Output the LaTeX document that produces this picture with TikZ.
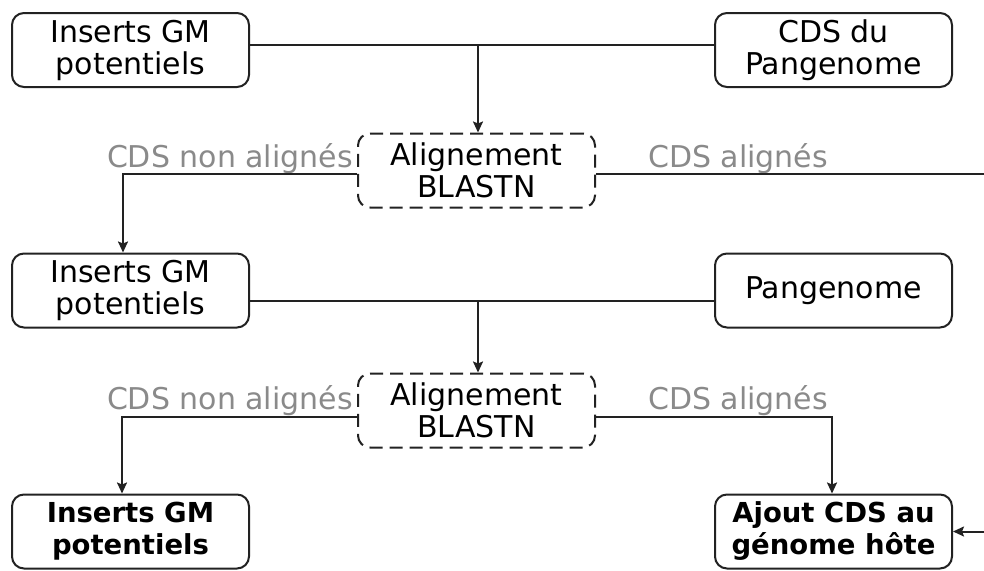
\documentclass[tikz,border=0pt]{standalone}
\usepackage{fontspec}
\setmainfont{DejaVu Sans}
\usetikzlibrary{arrows.meta}
\definecolor{lbl}{HTML}{8A8A8A}
\definecolor{ln}{HTML}{222222}
\begin{document}
\begin{tikzpicture}[x=1pt,y=-1pt,
  box/.style={draw=ln, line width=2pt, rounded corners=12pt, minimum width=237pt,
    minimum height=74pt, align=center, inner sep=0pt,
    font=\fontsize{30}{32}\selectfont},
  dbox/.style={box, dash pattern=on 13pt off 7pt},
  bbox/.style={box, font=\fontsize{27.5}{32}\selectfont\bfseries},
  lab/.style={text=lbl, inner sep=0pt, font=\fontsize{30}{32}\selectfont},
  conn/.style={draw=ln, line width=2pt},
  arr/.style={conn, -{Stealth[length=11pt,width=10pt,inset=2pt]}}]
\clip (0,0) rectangle (984,570);
% nodes
\node[box]  (in1)  at (130.5,50) {Inserts GM\\potentiels};
\node[box]  (cds1) at (833.5,50) {CDS du\\Pangenome};
\node[dbox] (al1)  at (476.5,170.5) {Alignement\\BLASTN};
\node[box]  (in2)  at (130.5,290.5) {Inserts GM\\potentiels};
\node[box]  (pan)  at (833.5,290.5) {Pangenome};
\node[dbox] (al2)  at (476.5,410.5) {Alignement\\BLASTN};
\node[bbox] (in3)  at (130.5,531.5) {Inserts GM\\potentiels};
\node[bbox] (res)  at (833.5,531.5) {Ajout CDS au\\génome hôte};
% labels
\node[lab, anchor=base east] (n1) at (353,167) {CDS non alignés};
\node[lab, anchor=base west] (a1) at (648,167) {CDS alignés};
\node[lab, anchor=base east] (n2) at (353,409) {CDS non alignés};
\node[lab, anchor=base west] (a2) at (648,409) {CDS alignés};
% junction coordinates
\coordinate (j1) at (478,45);
\coordinate (j2) at (478,301);
\coordinate (l1) at (123,174);
\coordinate (l2) at (122,417);
\coordinate (r2) at (832,417);
\coordinate (far) at (1000,174);
% connectors
\draw[conn] (in1.east |- j1) -- (cds1.west |- j1);
\draw[arr] (j1) -- (j1 |- al1.north);
\draw[arr] (al1.west |- l1) -- (l1) -- (in2.north -| l1);
\draw[arr] (al1.east |- l1) -- (far) |- (res.east);
\draw[conn] (in2.east |- j2) -- (pan.west |- j2);
\draw[arr] (j2) -- (j2 |- al2.north);
\draw[arr] (al2.west |- l2) -- (l2) -- (in3.north -| l2);
\draw[arr] (al2.east |- r2) -- (r2) -- (res.north -| r2);
\end{tikzpicture}
\end{document}
